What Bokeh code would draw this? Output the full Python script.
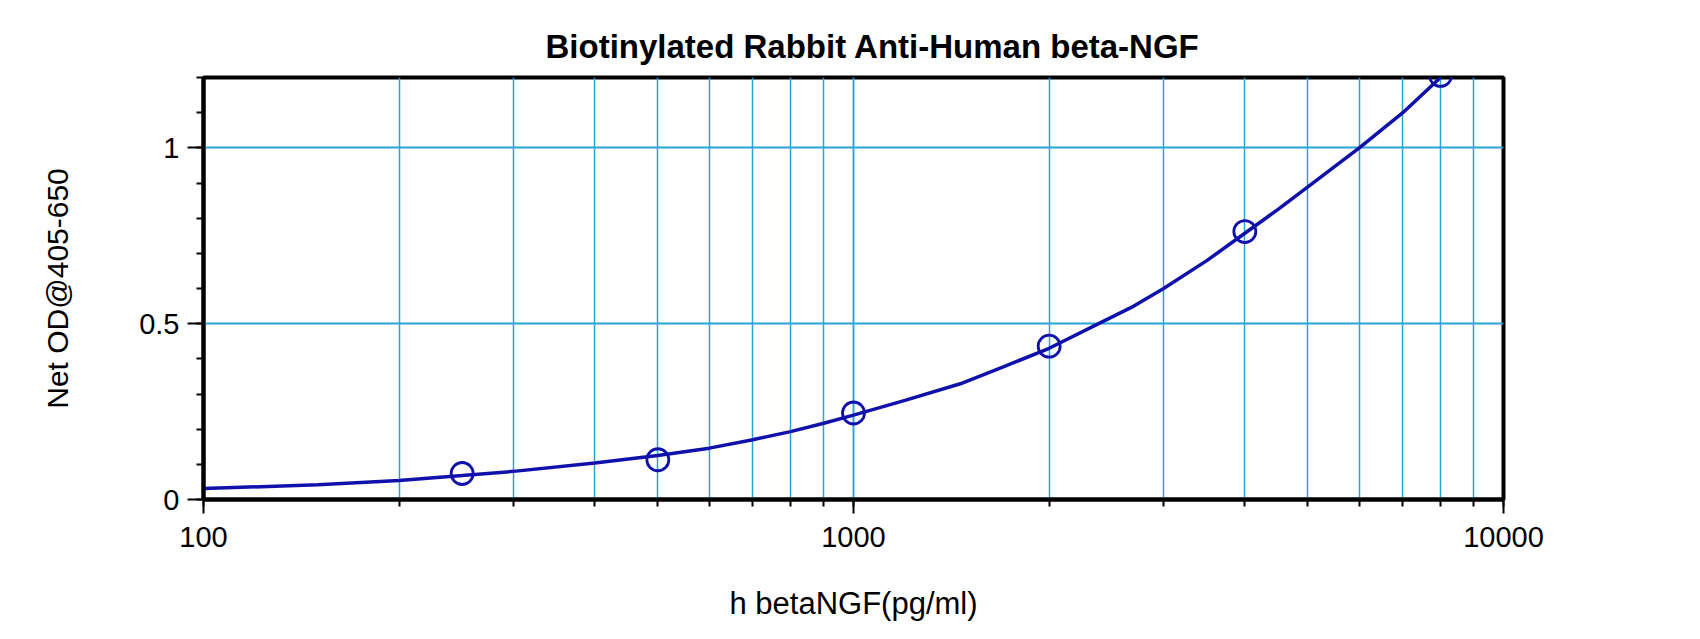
from bokeh.plotting import figure
from bokeh.models import LogTicker, Range1d, SingleIntervalTicker
from bokeh.embed import file_html
from bokeh.resources import INLINE

# measured standards
conc = [250, 500, 1000, 2000, 4000, 8000]
od = [0.074, 0.113, 0.246, 0.436, 0.762, 1.206]

# fitted curve
curve_x = [100, 150, 200, 250, 300, 400, 500, 600, 700, 800, 900, 1000,
           1200, 1460, 1700, 2000, 2400, 2700, 3000, 3500, 4000, 4500,
           5000, 6000, 7000, 8000]
curve_y = [0.031, 0.042, 0.054, 0.068, 0.080, 0.104, 0.125, 0.146, 0.170,
           0.193, 0.217, 0.240, 0.282, 0.329, 0.377, 0.430, 0.503, 0.550,
           0.600, 0.680, 0.757, 0.825, 0.889, 1.000, 1.100, 1.200]

x_labels = {100: "100", 1000: "1000", 10000: "10000"}
y_labels = {0: "0", 0.5: "0.5", 1: "1"}

FONT = "Liberation Sans"
GRID = "#2aa4d8"
BLUE = "#1010aa"

p = figure(width=1684, height=623, x_axis_type="log",
           x_range=Range1d(100, 10000), y_range=Range1d(0, 1.2),
           output_backend="svg", toolbar_location=None,
           min_border_left=203, min_border_right=181,
           min_border_top=77, min_border_bottom=122,
           title="Biotinylated Rabbit Anti-Human beta-NGF")

p.title.text_font = FONT
p.title.text_font_size = "33px"
p.title.text_font_style = "bold"
p.title.text_color = "black"
p.title.align = "left"
p.title.offset = 342
p.title.standoff = 26

p.outline_line_color = "black"
p.outline_line_width = 4
p.background_fill_color = "white"
p.border_fill_color = "white"

# x axis
xa = p.xaxis[0]
xa.ticker = LogTicker(mantissas=[1], num_minor_ticks=10)
xa.major_label_overrides = x_labels
xa.axis_label = "h betaNGF(pg/ml)"
xa.axis_label_text_font = FONT
xa.axis_label_text_font_size = "31px"
xa.axis_label_text_font_style = "normal"
xa.axis_label_text_color = "black"
xa.axis_label_standoff = 36
xa.major_label_text_font = FONT
xa.major_label_text_font_size = "29px"
xa.major_label_text_color = "black"
xa.major_label_standoff = 13
xa.axis_line_width = 4
xa.major_tick_in = 0
xa.major_tick_out = 14
xa.minor_tick_in = 0
xa.minor_tick_out = 7
xa.major_tick_line_width = 2
xa.minor_tick_line_width = 2

# y axis
ya = p.yaxis[0]
ya.ticker = SingleIntervalTicker(interval=0.5, num_minor_ticks=5)
ya.major_label_overrides = y_labels
ya.axis_label = "Net OD@405-650"
ya.axis_label_text_font = FONT
ya.axis_label_text_font_size = "30px"
ya.axis_label_text_font_style = "normal"
ya.axis_label_text_color = "black"
ya.axis_label_standoff = 62
ya.major_label_text_font = FONT
ya.major_label_text_font_size = "29px"
ya.major_label_text_color = "black"
ya.major_label_standoff = 8
ya.axis_line_width = 4
ya.major_tick_in = 0
ya.major_tick_out = 16
ya.minor_tick_in = 0
ya.minor_tick_out = 7
ya.major_tick_line_width = 2
ya.minor_tick_line_width = 2

# grids
p.xgrid.grid_line_color = GRID
p.xgrid.grid_line_width = 1.5
p.xgrid.minor_grid_line_color = GRID
p.xgrid.minor_grid_line_width = 1.5
p.xgrid.ticker = xa.ticker
p.ygrid.grid_line_color = GRID
p.ygrid.grid_line_width = 2
p.ygrid.ticker = ya.ticker

p.line(curve_x, curve_y, line_color=BLUE, line_width=3.5)
p.scatter(conc, od, marker="circle", size=22, fill_color=None,
          line_color=BLUE, line_width=2.8)

open("out.html", "w").write(file_html(p, INLINE))
